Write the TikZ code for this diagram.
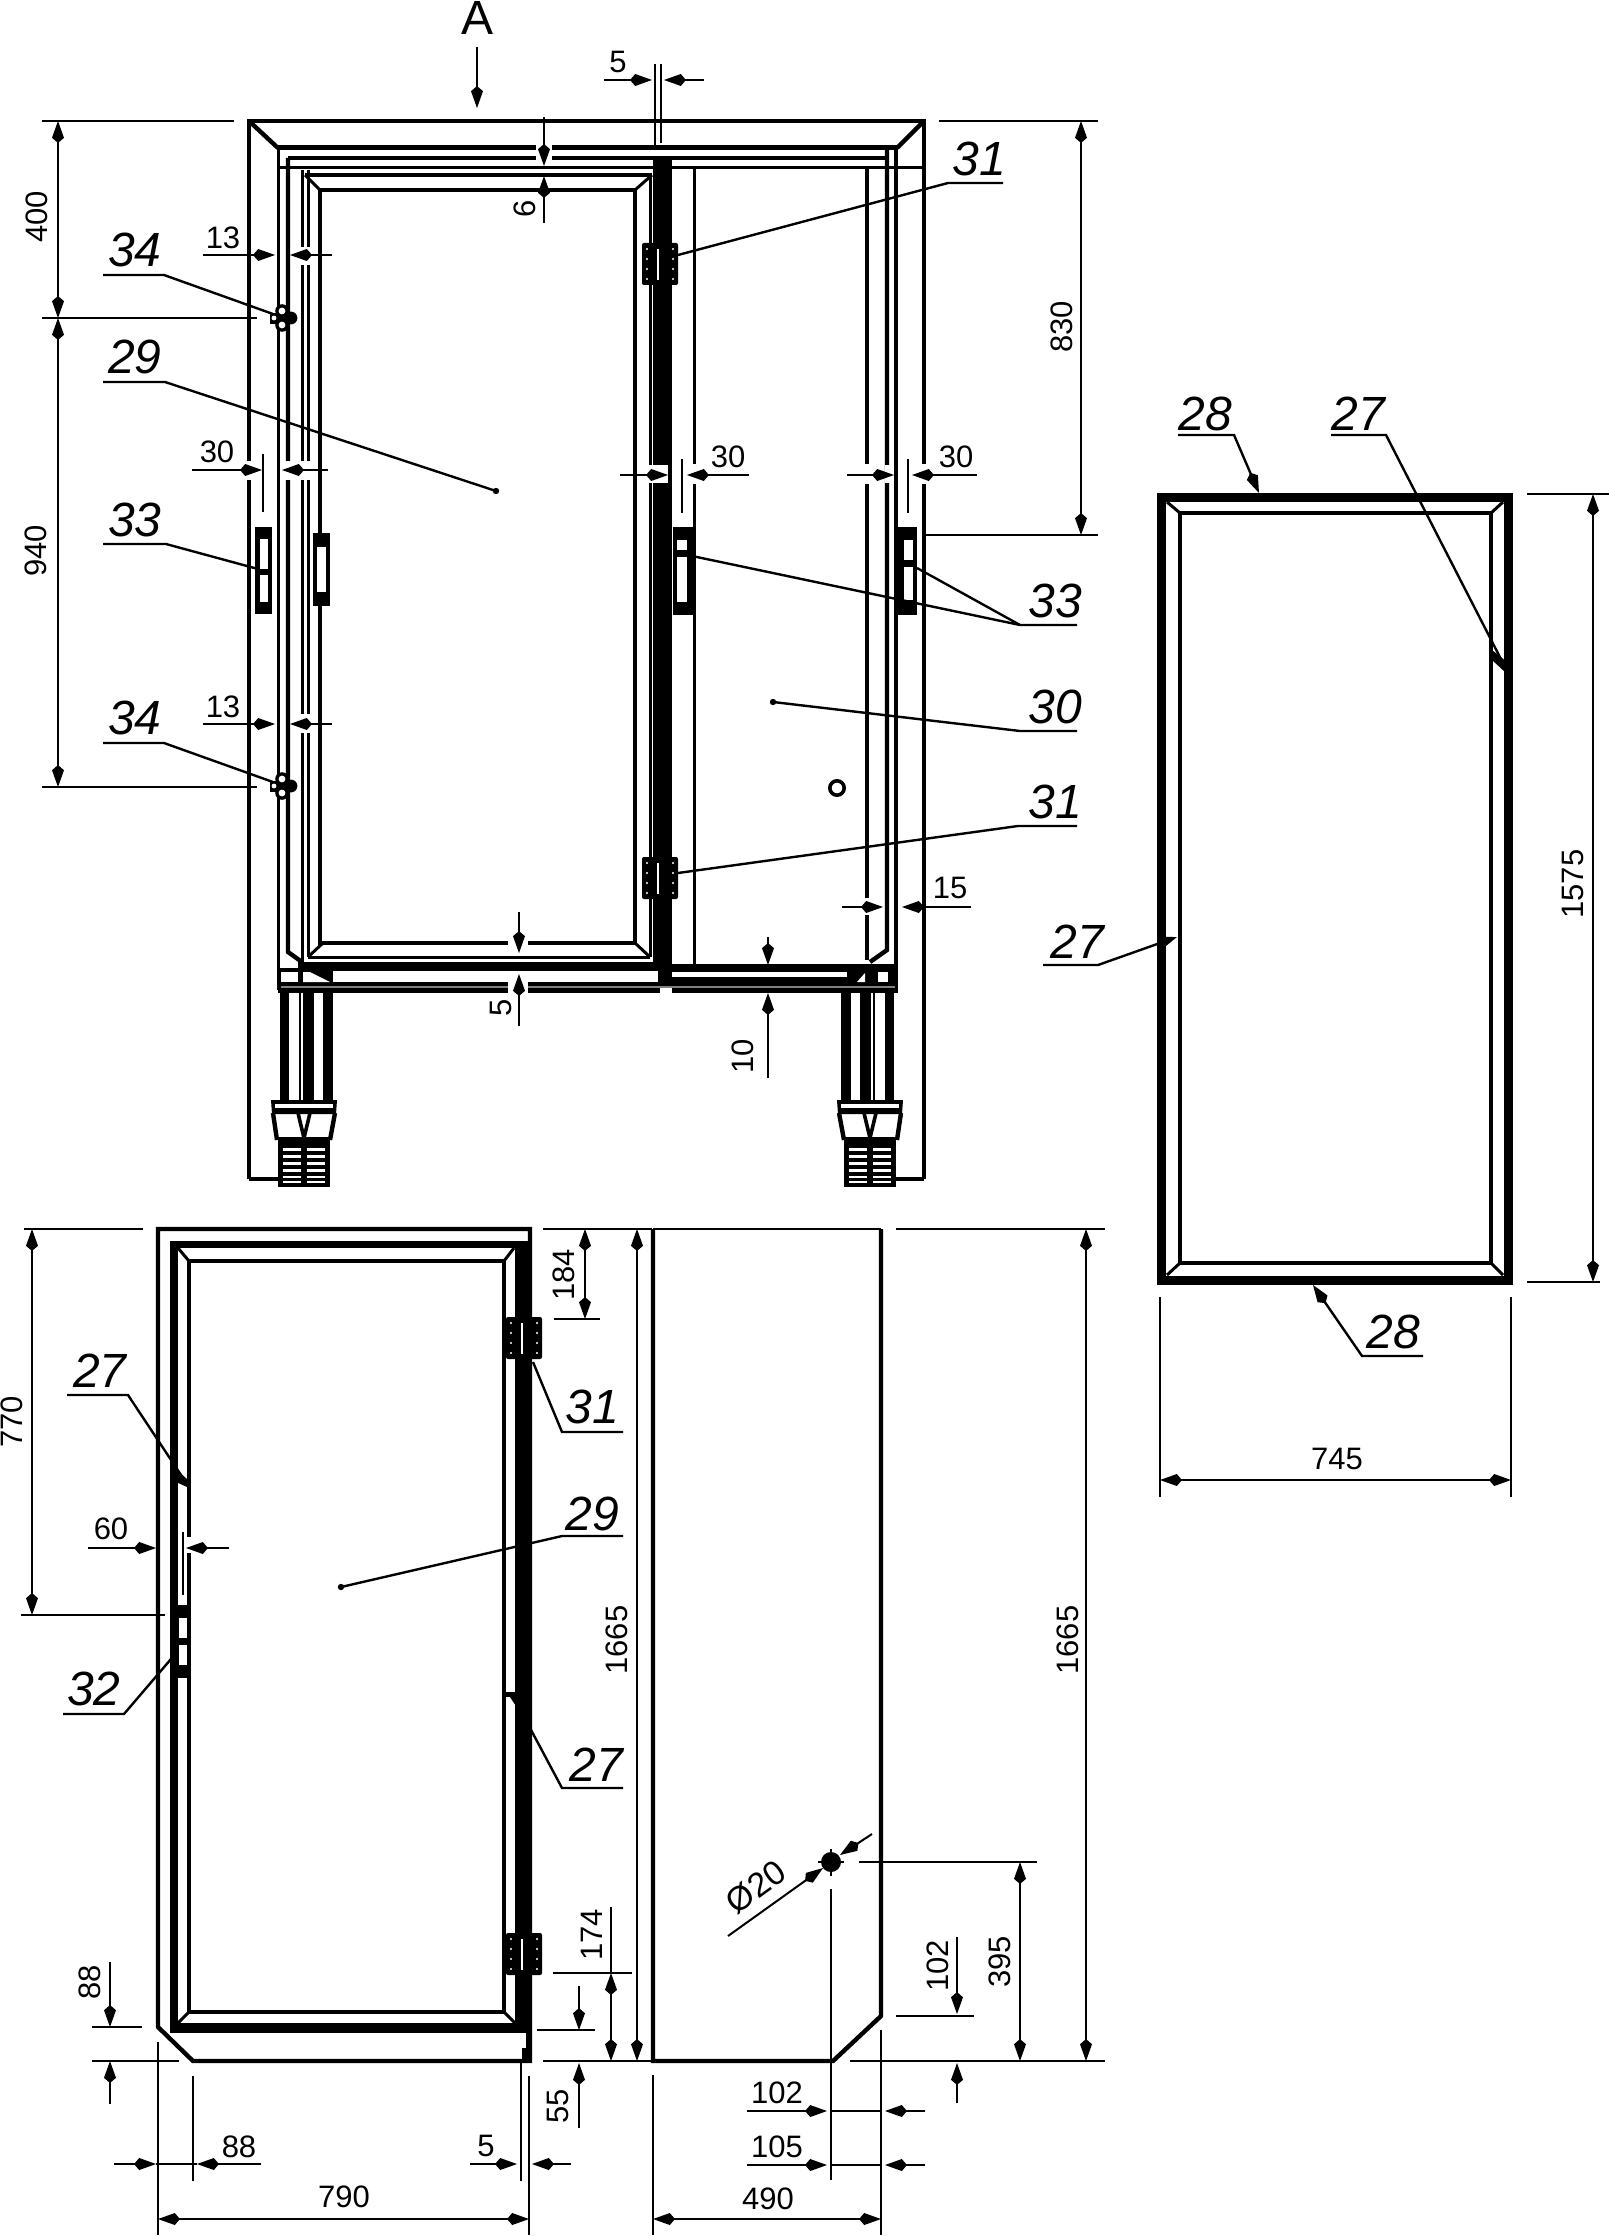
\documentclass[tikz,border=0pt]{standalone}
\usepackage{fontspec}
\setmainfont{Liberation Sans}
\usetikzlibrary{arrows.meta}
\tikzset{>={Kite[length=11pt,width=6pt,inset=2.6pt]}}
\tikzset{
  heavy/.style={line width=2.2pt},
  medium/.style={line width=1.5pt},
  dimline/.style={line width=1pt},
  leader/.style={line width=1.2pt},
  dimtext/.style={inner sep=0pt,font=\fontsize{15.5}{16}\selectfont},
  itemtext/.style={inner sep=0pt,font=\fontsize{24}{26}\selectfont\itshape}
}
% door hinge, given by its upper left corner
\newcommand{\hingeplate}[2]{
  \fill[rounded corners=1pt] (#1, #2) rectangle (#1+36, #2+42);
  \draw[white, line width=.7pt] (#1+16, #2+6)--(#1+16, #2+37);
  \foreach \dotx in {5, 31}
    \foreach \doty in {6, 16, 26, 36}
      \fill[white] (#1+\dotx, #2+\doty) circle [radius=.6pt];
}
% lock bolt on the left wall
\newcommand{\lockbolt}[1]{
  \fill (270, #1-5) rectangle (279, #1+6);
  \fill (276, #1-6) rectangle (291, #1+6);
  \fill (291, #1) circle [radius=3.2pt];
  \fill (282, #1-7) circle [radius=3.4pt];
  \fill (282, #1+7) circle [radius=3.4pt];
  \fill[white] (282, #1-7) circle [radius=1.7pt];
  \fill[white] (282, #1+7) circle [radius=1.7pt];
  \fill[white] (274, #1) circle [radius=1.2pt];
}
% leg and foot, drawn about its centre line
\newcommand{\legfoot}[2]{
  \begin{scope}[shift={(#1, 0)}, xscale=#2]
    \fill (-24, 993) rectangle (-15, 1100);
    \fill (-1, 993) rectangle (10, 1100);
    \fill (19, 993) rectangle (29, 1100);
    \draw[line width=.6pt] (-4, 993)--(-4, 1100);
    \fill (-33, 1100) -- (33, 1100) -- (32, 1114) -- (-32, 1114) -- cycle;
    \fill[white] (-29, 1104) rectangle (29, 1108);
    \draw[heavy] (-31, 1113)--(-27, 1140);
    \draw[heavy] (31, 1113)--(26, 1140);
    \draw[line width=1.8pt] (-6, 1113)--(0, 1138)--(6, 1113);
    \fill (-26, 1137) rectangle (26, 1187);
    \foreach \riby/\ribh in {1148/3, 1155/3, 1162/3, 1169/3, 1176/2, 1181/2}{
      \fill[white] (-21, \riby) rectangle (-3, \riby+\ribh);
      \fill[white] (3, \riby) rectangle (21, \riby+\ribh);
    }
  \end{scope}
}
\begin{document}
\begin{tikzpicture}[x=.5pt, y=-.5pt]
  \useasboundingbox (0, 0) rectangle (1609, 2236);

  % front view: walls
  \draw[heavy] (249, 1179)--(249, 121)--(924, 121)--(924, 1179);
  \draw[heavy] (249, 1179)--(280, 1179);
  \draw[heavy] (924, 1179)--(895, 1179);
  \draw[heavy] (249, 121)--(278, 148);
  \draw[heavy] (924, 121)--(897, 148);
  \draw[line width=2.5pt] (278, 148)--(897, 148);
  \draw[heavy] (288, 158)--(887, 158);
  \draw[medium] (278, 168)--(924, 168);
  \draw[medium] (278, 148)--(278, 990);
  \draw[heavy] (288, 158)--(288, 952)--(302, 962);
  \draw[medium] (302, 170)--(302, 962);
  \draw[medium] (308, 170)--(308, 957);
  \draw[heavy] (887, 148)--(887, 950)--(870, 962);
  \draw[heavy] (896, 148)--(896, 990);
  \draw[medium] (694, 168)--(694, 965);
  \draw[heavy] (867, 168)--(867, 960);

  % front view: door with the panel
  \draw[heavy] (305, 175)--(652, 175);
  \draw[medium] (308, 957)--(650, 957);
  \draw[medium] (650, 175)--(650, 957);
  \draw[heavy] (320, 190) rectangle (635, 943);
  \draw[medium] (305, 175)--(320, 190);
  \draw[medium] (652, 175)--(635, 190);
  \draw[medium] (308, 957)--(323, 943);
  \draw[medium] (650, 957)--(635, 943);

  % front view: middle post and lower rail
  \fill (653, 158) rectangle (672, 970);
  \fill (658, 970) rectangle (672, 988);
  \fill (298, 962) rectangle (672, 971);
  \fill (672, 964) rectangle (898, 972);
  \fill (278, 982) rectangle (660, 993);
  \fill (672, 977) rectangle (898, 993);
  \fill (278, 968) rectangle (333, 993);
  \fill (847, 964) rectangle (898, 993);
  \fill[white] (281, 972) rectangle (298, 982);
  \fill[white] (303, 972) -- (310, 972) -- (330, 982) -- (303, 982) -- cycle;
  \fill[white] (857, 982) -- (865, 973) -- (865, 982) -- cycle;
  \fill[white] (878, 972) rectangle (888, 982);
  \draw[gray, line width=1.2pt] (281, 987)--(895, 987);
  \legfoot{304}{1}
  \legfoot{870}{-1}

  % front view: handles, lock bolts, hinges, keyhole
  \fill (255, 527) rectangle (272, 614);
  \fill[white] (260, 539) rectangle (268, 569);
  \fill[white] (260, 575) rectangle (268, 602);
  \fill (313, 533) rectangle (330, 606);
  \fill[white] (317, 547) rectangle (326, 592);
  \fill (673, 527) rectangle (696, 615);
  \fill[white] (677, 540) rectangle (687, 550);
  \fill[white] (677, 557) rectangle (687, 602);
  \fill (898, 527) rectangle (917, 615);
  \fill[white] (904, 540) rectangle (913, 560);
  \fill[white] (904, 567) rectangle (913, 600);
  \lockbolt{318}
  \lockbolt{786}
  \hingeplate{642}{243}
  \hingeplate{642}{857}
  \draw[line width=1.8pt] (837, 788) circle [radius=3.6pt];

  % gaps that the dimensions leave in the lines
  \fill[white] (298, 247) rectangle (312, 265);
  \fill[white] (298, 714) rectangle (312, 733);
  \fill[white] (246, 461) rectangle (252, 480);
  \fill[white] (285, 461) rectangle (291, 480);
  \fill[white] (299, 461) rectangle (311, 480);
  \fill[white] (536, 144) rectangle (552, 162);
  \fill[white] (508, 940) rectangle (528, 947);
  \fill[white] (508, 982) rectangle (528, 993);
  \fill[white] (645, 465) rectangle (668, 483);
  \fill[white] (691, 464) rectangle (697, 484);
  \fill[white] (864, 464) rectangle (870, 484);
  \fill[white] (885, 465) rectangle (893, 483);
  \fill[white] (921, 464) rectangle (927, 484);
  \fill[white] (864, 898) rectangle (870, 915);

  % front view: dimensions
  \node[font=\fontsize{24}{26}\selectfont, inner sep=0pt] (viewA) at (478, 18) {A};
  \draw[dimline, ->] (477, 47)--(477, 108);
  \draw[dimline] (42, 121)--(234, 121);
  \draw[dimline] (42, 318)--(257, 318);
  \draw[dimline] (42, 787)--(257, 787);
  \draw[dimline, <->] (58, 121)--(58, 318);
  \draw[dimline, <->] (58, 318)--(58, 787);
  \node[dimtext, rotate=90] (d400) at (37, 217) {400};
  \node[dimtext, rotate=90] (d940) at (36, 551) {940};
  \draw[dimline] (655, 64)--(655, 150);
  \draw[dimline] (661, 64)--(661, 143);
  \draw[dimline, ->] (604, 80)--(652, 80);
  \draw[dimline, ->] (704, 80)--(664, 80);
  \node[dimtext] (d5top) at (618, 62) {5};
  \draw[dimline, ->] (544, 117)--(544, 166);
  \draw[dimline, ->] (544, 223)--(544, 176);
  \node[dimtext, rotate=90] (d6) at (525, 209) {6};
  \foreach \dimy/\numy in {255/238, 724/707}{
    \draw[dimline, ->] (203, \dimy)--(275, \dimy);
    \draw[dimline, ->] (332, \dimy)--(290, \dimy);
    \node[dimtext] at (223, \numy) {13};
  }
  \draw[dimline] (263, 454)--(263, 512);
  \draw[dimline, ->] (192, 470)--(262, 470);
  \draw[dimline, ->] (328, 470)--(282, 470);
  \node[dimtext] (d30a) at (217, 452) {30};
  \draw[dimline] (682, 459)--(682, 513);
  \draw[dimline, ->] (620, 475)--(668, 475);
  \draw[dimline, ->] (749, 475)--(687, 475);
  \node[dimtext] (d30b) at (728, 457) {30};
  \draw[dimline] (908, 459)--(908, 513);
  \draw[dimline, ->] (847, 475)--(894, 475);
  \draw[dimline, ->] (977, 475)--(912, 475);
  \node[dimtext] (d30c) at (956, 457) {30};
  \draw[dimline] (939, 121)--(1098, 121);
  \draw[dimline] (926, 535)--(1098, 535);
  \draw[dimline, <->] (1081, 121)--(1081, 535);
  \node[dimtext, rotate=90] (d830) at (1062, 327) {830};
  \draw[dimline, ->] (842, 907)--(883, 907);
  \draw[dimline, ->] (971, 907)--(902, 907);
  \node[dimtext] (d15) at (950, 888) {15};
  \draw[dimline, ->] (519, 912)--(519, 953);
  \draw[dimline, ->] (519, 1026)--(519, 974);
  \node[dimtext, rotate=90] (d5low) at (501, 1008) {5};
  \draw[dimline, ->] (768, 937)--(768, 965);
  \draw[dimline, ->] (768, 1078)--(768, 993);
  \node[dimtext, rotate=90] (d10) at (743, 1056) {10};

  % front view: item leaders
  \draw[leader] (103, 275)--(164, 275)--(273, 314);
  \node[itemtext] (item34a) at (135, 250) {34};
  \draw[leader] (103, 743)--(164, 743)--(273, 782);
  \node[itemtext] (item34b) at (135, 718) {34};
  \draw[leader] (103, 382)--(165, 382)--(496, 491);
  \fill (496, 491) circle [radius=1.6pt];
  \node[itemtext] (item29a) at (135, 357) {29};
  \draw[leader] (103, 544)--(166, 544)--(258, 569);
  \node[itemtext] (item33a) at (135, 520) {33};
  \draw[leader] (1077, 625)--(1020, 625)--(692, 556);
  \draw[leader] (1020, 625)--(917, 568);
  \node[itemtext] (item33b) at (1055, 601) {33};
  \draw[leader] (1077, 731)--(1020, 731)--(773, 702);
  \fill (773, 702) circle [radius=1.6pt];
  \node[itemtext] (item30) at (1055, 707) {30};
  \draw[leader] (1077, 826)--(1018, 826)--(678, 873);
  \node[itemtext] (item31b) at (1055, 802) {31};
  \draw[leader] (1003, 183)--(948, 183)--(678, 255);
  \node[itemtext] (item31a) at (979, 159) {31};

  % seal frame
  \draw[line width=4.6pt] (1161.5, 497.5) rectangle (1508.5, 1280.5);
  \draw[heavy] (1180, 513) rectangle (1491, 1263);
  \draw[medium] (1167, 502)--(1180, 513);
  \draw[medium] (1503, 502)--(1491, 513);
  \draw[medium] (1167, 1275)--(1180, 1263);
  \draw[medium] (1503, 1275)--(1491, 1263);
  \draw[dimline] (1527, 494)--(1609, 494);
  \draw[dimline] (1527, 1282)--(1600, 1282);
  \draw[dimline, <->] (1593, 494)--(1593, 1282);
  \node[dimtext, rotate=90] (d1575) at (1573, 884) {1575};
  \draw[dimline] (1160, 1297)--(1160, 1497);
  \draw[dimline] (1511, 1297)--(1511, 1497);
  \draw[dimline, <->] (1160, 1480)--(1511, 1480);
  \node[dimtext] (d745) at (1337, 1459) {745};
  \draw[leader, ->] (1178, 435)--(1234, 435)--(1259, 493);
  \node[itemtext] (item28a) at (1205, 414) {28};
  \draw[leader, ->] (1423, 1356)--(1362, 1356)--(1313, 1285);
  \node[itemtext] (item28b) at (1393, 1332) {28};
  \draw[leader] (1331, 435)--(1386, 435)--(1505, 667);
  \fill (1492, 650)--(1507, 662)--(1506, 673)--(1492, 660)--cycle;
  \node[itemtext] (item27a) at (1358, 414) {27};
  \draw[leader, ->] (1043, 965)--(1098, 965)--(1177, 937);
  \node[itemtext] (item27b) at (1077, 942) {27};

  % door seen from inside
  \draw[heavy] (158, 2027)--(158, 1229)--(530, 1229)--(530, 2061)--(193, 2061)--cycle;
  \fill (170, 1241) rectangle (178, 2033);
  \fill (170, 1241) rectangle (526, 1248);
  \fill (170, 2023) rectangle (531, 2033);
  \fill (515, 1241) rectangle (531, 2033);
  \fill (522, 2048) rectangle (531, 2061);
  \fill (526, 2033) rectangle (531, 2048);
  \draw[heavy] (189, 1261) rectangle (504, 2012);
  \draw[medium] (178, 1248)--(189, 1261);
  \draw[medium] (514, 1248)--(504, 1261);
  \draw[medium] (178, 2023)--(189, 2012);
  \draw[medium] (515, 2023)--(504, 2012);
  \fill (178, 1605) rectangle (188, 1678);
  \fill[white] (179, 1618) rectangle (187, 1638);
  \fill[white] (179, 1645) rectangle (187, 1665);
  \fill (505, 1692) rectangle (516, 1697);
  \fill (510, 1697)--(516, 1697)--(516, 1706)--cycle;
  \hingeplate{506}{1317}
  \hingeplate{506}{1933}
  \fill[white] (186, 1537) rectangle (193, 1553);

  % door: dimensions
  \draw[dimline] (24, 1229)--(143, 1229);
  \draw[dimline] (21, 1615)--(165, 1615);
  \draw[dimline, <->] (32, 1229)--(32, 1615);
  \node[dimtext, rotate=90] (d770) at (12, 1422) {770};
  \draw[dimline] (183, 1532)--(183, 1595);
  \draw[dimline, ->] (88, 1548)--(156, 1548);
  \draw[dimline, ->] (229, 1548)--(186, 1548);
  \node[dimtext] (d60) at (111, 1529) {60};
  \draw[dimline] (92, 2027)--(142, 2027);
  \draw[dimline] (92, 2061)--(179, 2061);
  \draw[dimline, ->] (110, 1962)--(110, 2027);
  \draw[dimline, ->] (110, 2104)--(110, 2061);
  \node[dimtext, rotate=90] (d88v) at (90, 1982) {88};
  \draw[dimline] (158, 2042)--(158, 2235);
  \draw[dimline] (193, 2076)--(193, 2181);
  \draw[dimline, ->] (114, 2164)--(156, 2164);
  \draw[dimline] (156, 2164)--(197, 2164);
  \draw[dimline, ->] (261, 2164)--(197, 2164);
  \node[dimtext] (d88h) at (239, 2147) {88};
  \draw[dimline] (521, 2061)--(521, 2181);
  \draw[dimline] (529, 2076)--(529, 2235);
  \draw[dimline, ->] (470, 2164)--(517, 2164);
  \draw[dimline, ->] (571, 2164)--(532, 2164);
  \node[dimtext] (d5door) at (486, 2146) {5};
  \draw[dimline, <->] (158, 2219)--(529, 2219);
  \node[dimtext] (d790) at (344, 2197) {790};
  \draw[dimline] (543, 1229)--(652, 1229);
  \draw[dimline] (554, 1319)--(600, 1319);
  \draw[dimline, <->] (585, 1229)--(585, 1319);
  \node[dimtext, rotate=90] (d184) at (564, 1275) {184};
  \draw[dimline] (553, 1973)--(632, 1973);
  \draw[dimline] (537, 2030)--(595, 2030);
  \draw[dimline] (543, 2061)--(653, 2061);
  \draw[dimline, ->] (579, 1986)--(579, 2030);
  \draw[dimline, ->] (579, 2128)--(579, 2063);
  \node[dimtext, rotate=90] (d55) at (558, 2106) {55};
  \draw[dimline] (611, 1907)--(611, 1973);
  \draw[dimline, <->] (611, 1973)--(611, 2061);
  \node[dimtext, rotate=90] (d174) at (592, 1935) {174};
  \draw[dimline, <->] (637, 1229)--(637, 2061);
  \node[dimtext, rotate=90] (d1665a) at (617, 1640) {1665};

  % door: item leaders
  \draw[leader] (67, 1395)--(128, 1395)--(187, 1484);
  \fill (177, 1470)--(188, 1480)--(187, 1487)--(176, 1482)--cycle;
  \node[itemtext] (item27c) at (100, 1371) {27};
  \draw[leader] (63, 1714)--(124, 1714)--(171, 1659);
  \node[itemtext] (item32) at (94, 1689) {32};
  \draw[leader] (623, 1432)--(562, 1432)--(533, 1362);
  \node[itemtext] (item31c) at (592, 1407) {31};
  \draw[leader] (623, 1536)--(562, 1536)--(341, 1587);
  \fill (341, 1587) circle [radius=1.6pt];
  \node[itemtext] (item29b) at (592, 1514) {29};
  \draw[leader] (623, 1788)--(562, 1788)--(530, 1728);
  \node[itemtext] (item27d) at (596, 1765) {27};

  % side view
  \draw[heavy] (653, 1229)--(653, 2061)--(833, 2061)--(881, 2016)--(881, 1229);
  \draw[dimline] (653, 1229)--(881, 1229);
  \fill (831, 1862) circle [radius=5pt];
  \draw[dimline] (831, 1849)--(831, 1876);
  \draw[dimline] (818, 1862)--(844, 1862);
  \draw[dimline] (831, 1889)--(831, 2180);
  \draw[dimline] (881, 2030)--(881, 2235);
  \draw[dimline] (653, 2075)--(653, 2235);
  \draw[dimline, ->] (728, 1936)--(823, 1868);
  \draw[dimline, ->] (872, 1834)--(840, 1855);
  \node[dimtext, rotate=36, font=\fontsize{17}{18}\selectfont] (d20) at (756, 1887) {Ø20};
  \draw[dimline] (896, 1229)--(1105, 1229);
  \draw[dimline] (850, 2061)--(1105, 2061);
  \draw[dimline, <->] (1086, 1229)--(1086, 2061);
  \node[dimtext, rotate=90] (d1665b) at (1068, 1640) {1665};
  \draw[dimline] (859, 1862)--(1037, 1862);
  \draw[dimline, <->] (1020, 1862)--(1020, 2061);
  \node[dimtext, rotate=90] (d395) at (1000, 1962) {395};
  \draw[dimline] (896, 2016)--(974, 2016);
  \draw[dimline, ->] (957, 1937)--(957, 2014);
  \draw[dimline, ->] (957, 2103)--(957, 2063);
  \node[dimtext, rotate=90] (d102v) at (938, 1966) {102};
  \draw[dimline] (831, 2111)--(881, 2111);
  \draw[dimline, ->] (747, 2111)--(827, 2111);
  \draw[dimline, ->] (925, 2111)--(885, 2111);
  \node[dimtext] (d102h) at (777, 2093) {102};
  \draw[dimline] (831, 2165)--(881, 2165);
  \draw[dimline, ->] (747, 2165)--(827, 2165);
  \draw[dimline, ->] (925, 2165)--(885, 2165);
  \node[dimtext] (d105) at (777, 2147) {105};
  \draw[dimline, <->] (653, 2219)--(881, 2219);
  \node[dimtext] (d490) at (768, 2199) {490};
\end{tikzpicture}
\end{document}
